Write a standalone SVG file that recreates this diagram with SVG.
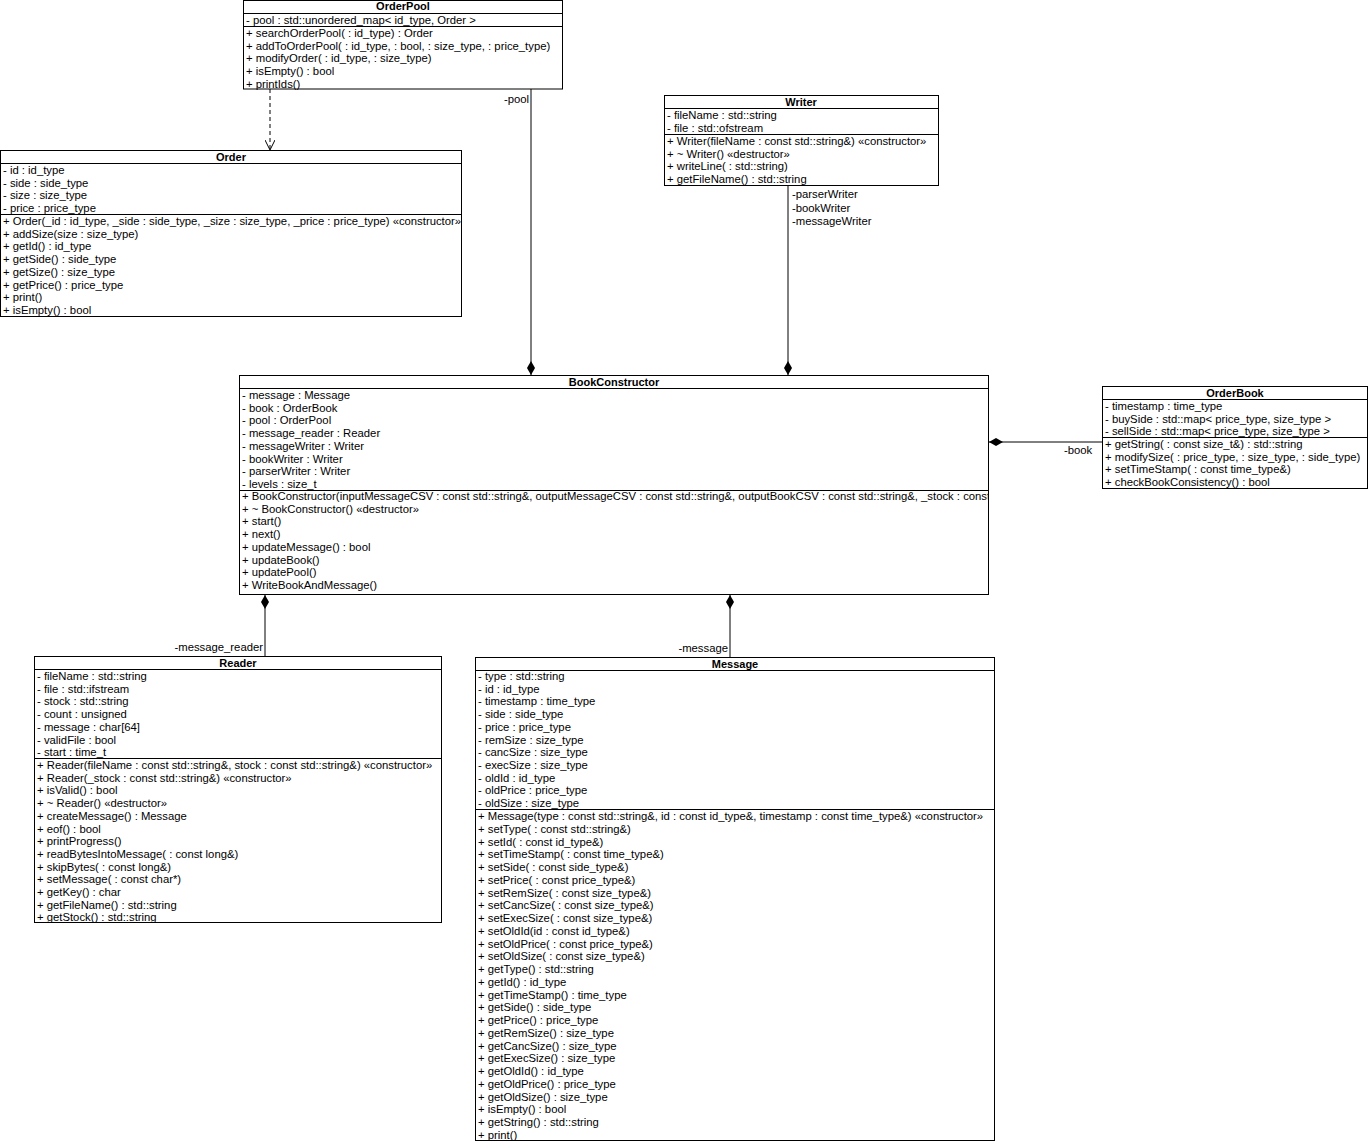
<svg xmlns="http://www.w3.org/2000/svg" width="1368" height="1142" viewBox="0 0 1368 1142">
<style>
.bg{fill:#ffffff}
.box{fill:#ffffff;stroke:#000000;stroke-width:1}
.sep{stroke:#000000;stroke-width:1}
.t{font-family:"Liberation Sans",Arial,sans-serif;font-size:11.3px;fill:#000000}
.h{font-family:"Liberation Sans",Arial,sans-serif;font-size:11px;font-weight:bold;fill:#000000;text-anchor:middle}
.c{fill:none;stroke:#000000;stroke-width:1}
.e{text-anchor:end}
</style>
<defs>
<marker id="dia" viewBox="0 0 14 8" refX="14" refY="4" markerWidth="14" markerHeight="8" markerUnits="userSpaceOnUse" orient="auto">
<path d="M0,4 L7,0 L14,4 L7,8 Z" fill="#000000"/>
</marker>
<marker id="open" viewBox="0 0 10 10" refX="10" refY="5" markerWidth="10" markerHeight="10" markerUnits="userSpaceOnUse" orient="auto">
<path d="M0,0 L10,5 L0,10" fill="none" stroke="#000000" stroke-width="1"/>
</marker>
<clipPath id="bcclip"><rect x="240" y="376" width="748.5" height="218"/></clipPath>
</defs>
<rect class="bg" x="0" y="0" width="1368" height="1142"/>

<g id="connectors">
<path class="c" d="M270,89 V150" stroke-dasharray="4,3" marker-end="url(#open)"/>
<path class="c" d="M531,89 V375" marker-end="url(#dia)"/>
<path class="c" d="M788,185 V375" marker-end="url(#dia)"/>
<path class="c" d="M1102,442 H989" marker-end="url(#dia)"/>
<path class="c" d="M265,656 V595" marker-end="url(#dia)"/>
<path class="c" d="M730,657 V595" marker-end="url(#dia)"/>
<text class="t e" x="529" y="103">-pool</text>
<text class="t" x="792" y="198">-parserWriter</text>
<text class="t" x="792" y="211.5">-bookWriter</text>
<text class="t" x="792" y="225">-messageWriter</text>
<text class="t" x="1064" y="454">-book</text>
<text class="t e" x="263" y="651">-message_reader</text>
<text class="t e" x="728" y="652">-message</text>
</g>

<g id="OrderPool">
<rect class="box" x="243.5" y="0.5" width="319" height="88.5"/>
<text class="h" x="403" y="10">OrderPool</text>
<line class="sep" x1="243.5" y1="13.5" x2="562.5" y2="13.5"/>
<text class="t" x="246" y="24">- pool : std::unordered_map&lt; id_type, Order &gt;</text>
<line class="sep" x1="243.5" y1="26.5" x2="562.5" y2="26.5"/>
<text class="t" x="246" y="37"><tspan x="246" dy="0">+ searchOrderPool( : id_type) : Order</tspan><tspan x="246" dy="12.7">+ addToOrderPool( : id_type,  : bool,  : size_type,  : price_type)</tspan><tspan x="246" dy="12.7">+ modifyOrder( : id_type,  : size_type)</tspan><tspan x="246" dy="12.7">+ isEmpty() : bool</tspan><tspan x="246" dy="12.7">+ printIds()</tspan></text>
</g>

<g id="Order">
<rect class="box" x="0.5" y="150.5" width="461" height="166"/>
<text class="h" x="231" y="161">Order</text>
<line class="sep" x1="0.5" y1="163.5" x2="461.5" y2="163.5"/>
<text class="t" x="3" y="174"><tspan x="3" dy="0">- id : id_type</tspan><tspan x="3" dy="12.7">- side : side_type</tspan><tspan x="3" dy="12.7">- size : size_type</tspan><tspan x="3" dy="12.7">- price : price_type</tspan></text>
<line class="sep" x1="0.5" y1="214.5" x2="461.5" y2="214.5"/>
<text class="t" x="3" y="225"><tspan x="3" dy="0">+ Order(_id : id_type, _side : side_type, _size : size_type, _price : price_type) «constructor»</tspan><tspan x="3" dy="12.7">+ addSize(size : size_type)</tspan><tspan x="3" dy="12.7">+ getId() : id_type</tspan><tspan x="3" dy="12.7">+ getSide() : side_type</tspan><tspan x="3" dy="12.7">+ getSize() : size_type</tspan><tspan x="3" dy="12.7">+ getPrice() : price_type</tspan><tspan x="3" dy="12.7">+ print()</tspan><tspan x="3" dy="12.7">+ isEmpty() : bool</tspan></text>
</g>

<g id="Writer">
<rect class="box" x="664.5" y="95.5" width="274" height="90"/>
<text class="h" x="801" y="106">Writer</text>
<line class="sep" x1="664.5" y1="108.5" x2="938.5" y2="108.5"/>
<text class="t" x="667" y="119"><tspan x="667" dy="0">- fileName : std::string</tspan><tspan x="667" dy="12.7">- file : std::ofstream</tspan></text>
<line class="sep" x1="664.5" y1="134.5" x2="938.5" y2="134.5"/>
<text class="t" x="667" y="145"><tspan x="667" dy="0">+ Writer(fileName : const std::string&amp;) «constructor»</tspan><tspan x="667" dy="12.7">+ ~ Writer() «destructor»</tspan><tspan x="667" dy="12.7">+ writeLine( : std::string)</tspan><tspan x="667" dy="12.7">+ getFileName() : std::string</tspan></text>
</g>

<g id="BookConstructor">
<rect class="box" x="239.5" y="375.5" width="749" height="219"/>
<text class="h" x="614" y="386">BookConstructor</text>
<line class="sep" x1="239.5" y1="388.5" x2="988.5" y2="388.5"/>
<text class="t" x="242" y="399"><tspan x="242" dy="0">- message : Message</tspan><tspan x="242" dy="12.7">- book : OrderBook</tspan><tspan x="242" dy="12.7">- pool : OrderPool</tspan><tspan x="242" dy="12.7">- message_reader : Reader</tspan><tspan x="242" dy="12.7">- messageWriter : Writer</tspan><tspan x="242" dy="12.7">- bookWriter : Writer</tspan><tspan x="242" dy="12.7">- parserWriter : Writer</tspan><tspan x="242" dy="12.7">- levels : size_t</tspan></text>
<line class="sep" x1="239.5" y1="490.5" x2="988.5" y2="490.5"/>
<text class="t" x="242" y="500" clip-path="url(#bcclip)"><tspan x="242" dy="0">+ BookConstructor(inputMessageCSV : const std::string&amp;, outputMessageCSV : const std::string&amp;, outputBookCSV : const std::string&amp;, _stock : const</tspan><tspan x="242" dy="12.7">+ ~ BookConstructor() «destructor»</tspan><tspan x="242" dy="12.7">+ start()</tspan><tspan x="242" dy="12.7">+ next()</tspan><tspan x="242" dy="12.7">+ updateMessage() : bool</tspan><tspan x="242" dy="12.7">+ updateBook()</tspan><tspan x="242" dy="12.7">+ updatePool()</tspan><tspan x="242" dy="12.7">+ WriteBookAndMessage()</tspan></text>
</g>

<g id="OrderBook">
<rect class="box" x="1102.5" y="386.5" width="265" height="102"/>
<text class="h" x="1235" y="397">OrderBook</text>
<line class="sep" x1="1102.5" y1="399.5" x2="1367.5" y2="399.5"/>
<text class="t" x="1105" y="410"><tspan x="1105" dy="0">- timestamp : time_type</tspan><tspan x="1105" dy="12.7">- buySide : std::map&lt; price_type, size_type &gt;</tspan><tspan x="1105" dy="12.7">- sellSide : std::map&lt; price_type, size_type &gt;</tspan></text>
<line class="sep" x1="1102.5" y1="437.5" x2="1367.5" y2="437.5"/>
<text class="t" x="1105" y="448"><tspan x="1105" dy="0">+ getString( : const size_t&amp;) : std::string</tspan><tspan x="1105" dy="12.7">+ modifySize( : price_type,  : size_type,  : side_type)</tspan><tspan x="1105" dy="12.7">+ setTimeStamp( : const time_type&amp;)</tspan><tspan x="1105" dy="12.7">+ checkBookConsistency() : bool</tspan></text>
</g>

<g id="Reader">
<rect class="box" x="34.5" y="656.5" width="407" height="266"/>
<text class="h" x="238" y="667">Reader</text>
<line class="sep" x1="34.5" y1="669.5" x2="441.5" y2="669.5"/>
<text class="t" x="37" y="680"><tspan x="37" dy="0">- fileName : std::string</tspan><tspan x="37" dy="12.7">- file : std::ifstream</tspan><tspan x="37" dy="12.7">- stock : std::string</tspan><tspan x="37" dy="12.7">- count : unsigned</tspan><tspan x="37" dy="12.7">- message : char[64]</tspan><tspan x="37" dy="12.7">- validFile : bool</tspan><tspan x="37" dy="12.7">- start : time_t</tspan></text>
<line class="sep" x1="34.5" y1="758.5" x2="441.5" y2="758.5"/>
<text class="t" x="37" y="769"><tspan x="37" dy="0">+ Reader(fileName : const std::string&amp;, stock : const std::string&amp;) «constructor»</tspan><tspan x="37" dy="12.7">+ Reader(_stock : const std::string&amp;) «constructor»</tspan><tspan x="37" dy="12.7">+ isValid() : bool</tspan><tspan x="37" dy="12.7">+ ~ Reader() «destructor»</tspan><tspan x="37" dy="12.7">+ createMessage() : Message</tspan><tspan x="37" dy="12.7">+ eof() : bool</tspan><tspan x="37" dy="12.7">+ printProgress()</tspan><tspan x="37" dy="12.7">+ readBytesIntoMessage( : const long&amp;)</tspan><tspan x="37" dy="12.7">+ skipBytes( : const long&amp;)</tspan><tspan x="37" dy="12.7">+ setMessage( : const char*)</tspan><tspan x="37" dy="12.7">+ getKey() : char</tspan><tspan x="37" dy="12.7">+ getFileName() : std::string</tspan><tspan x="37" dy="12.7">+ getStock() : std::string</tspan></text>
</g>

<g id="Message">
<rect class="box" x="475.5" y="657.5" width="519" height="483"/>
<text class="h" x="735" y="668">Message</text>
<line class="sep" x1="475.5" y1="670.5" x2="994.5" y2="670.5"/>
<text class="t" x="478" y="680"><tspan x="478" dy="0">- type : std::string</tspan><tspan x="478" dy="12.7">- id : id_type</tspan><tspan x="478" dy="12.7">- timestamp : time_type</tspan><tspan x="478" dy="12.7">- side : side_type</tspan><tspan x="478" dy="12.7">- price : price_type</tspan><tspan x="478" dy="12.7">- remSize : size_type</tspan><tspan x="478" dy="12.7">- cancSize : size_type</tspan><tspan x="478" dy="12.7">- execSize : size_type</tspan><tspan x="478" dy="12.7">- oldId : id_type</tspan><tspan x="478" dy="12.7">- oldPrice : price_type</tspan><tspan x="478" dy="12.7">- oldSize : size_type</tspan></text>
<line class="sep" x1="475.5" y1="809.5" x2="994.5" y2="809.5"/>
<text class="t" x="478" y="820"><tspan x="478" dy="0">+ Message(type : const std::string&amp;, id : const id_type&amp;, timestamp : const time_type&amp;) «constructor»</tspan><tspan x="478" dy="12.75">+ setType( : const std::string&amp;)</tspan><tspan x="478" dy="12.75">+ setId( : const id_type&amp;)</tspan><tspan x="478" dy="12.75">+ setTimeStamp( : const time_type&amp;)</tspan><tspan x="478" dy="12.75">+ setSide( : const side_type&amp;)</tspan><tspan x="478" dy="12.75">+ setPrice( : const price_type&amp;)</tspan><tspan x="478" dy="12.75">+ setRemSize( : const size_type&amp;)</tspan><tspan x="478" dy="12.75">+ setCancSize( : const size_type&amp;)</tspan><tspan x="478" dy="12.75">+ setExecSize( : const size_type&amp;)</tspan><tspan x="478" dy="12.75">+ setOldId(id : const id_type&amp;)</tspan><tspan x="478" dy="12.75">+ setOldPrice( : const price_type&amp;)</tspan><tspan x="478" dy="12.75">+ setOldSize( : const size_type&amp;)</tspan><tspan x="478" dy="12.75">+ getType() : std::string</tspan><tspan x="478" dy="12.75">+ getId() : id_type</tspan><tspan x="478" dy="12.75">+ getTimeStamp() : time_type</tspan><tspan x="478" dy="12.75">+ getSide() : side_type</tspan><tspan x="478" dy="12.75">+ getPrice() : price_type</tspan><tspan x="478" dy="12.75">+ getRemSize() : size_type</tspan><tspan x="478" dy="12.75">+ getCancSize() : size_type</tspan><tspan x="478" dy="12.75">+ getExecSize() : size_type</tspan><tspan x="478" dy="12.75">+ getOldId() : id_type</tspan><tspan x="478" dy="12.75">+ getOldPrice() : price_type</tspan><tspan x="478" dy="12.75">+ getOldSize() : size_type</tspan><tspan x="478" dy="12.75">+ isEmpty() : bool</tspan><tspan x="478" dy="12.75">+ getString() : std::string</tspan><tspan x="478" dy="12.75">+ print()</tspan></text>
</g>
</svg>
